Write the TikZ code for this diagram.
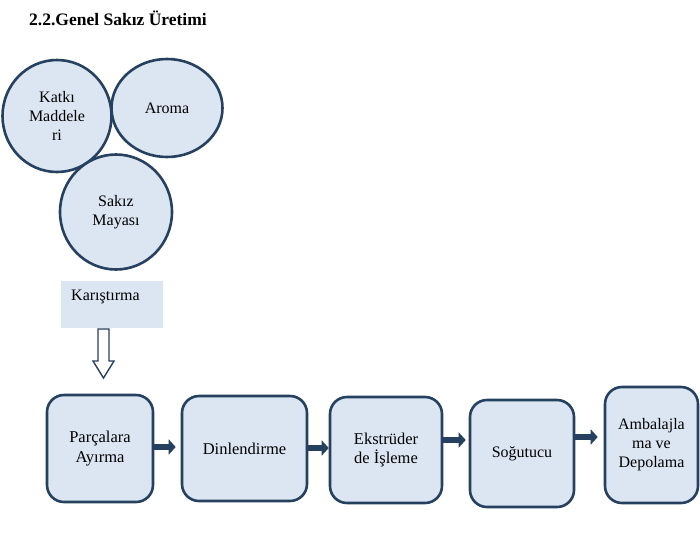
\documentclass[tikz,border=0pt]{standalone}
\usepackage{fontspec}
\setmainfont{Liberation Serif}
\usetikzlibrary{shapes.geometric,arrows.meta,calc}
\definecolor{navy}{RGB}{38,64,96}
\definecolor{paleblue}{RGB}{220,230,242}
\tikzset{
  blob/.style={ellipse, draw=navy, line width=2.6pt, fill=paleblue, inner sep=0pt, align=center, font=\fontsize{16}{19}\selectfont},
  stepbox/.style={rectangle, rounded corners=17pt, draw=navy, line width=2.6pt, fill=paleblue, inner sep=2pt, align=center, font=\fontsize{16.5}{19.5}\selectfont},
  flow/.style={navy, line width=6pt, -{Triangle[length=7pt,width=15pt]}},
}
\begin{document}
\begin{tikzpicture}[x=1pt,y=-1pt]
\useasboundingbox (0,0) rectangle (700,549);
% title
\node[anchor=west, inner sep=0pt, font=\fontsize{17.5}{20}\selectfont\bfseries] (title) at (29,18) {2.2.Genel Sakız Üretimi};
% circles
\node[blob, minimum width=109pt, minimum height=112pt] (c1) at (57,116) {Katkı\\Maddele\\ri};
\node[blob, minimum width=111pt, minimum height=98pt] (c2) at (167,108) {Aroma};
\node[blob, minimum width=112pt, minimum height=115pt] (c3) at (116,212) {Sakız\\Mayası};
% mixing box
\node[fill=paleblue, minimum width=102pt, minimum height=47pt, inner sep=0pt] (mix) at (112,304.5) {};
\node[anchor=west, inner sep=0pt, font=\fontsize{16}{19}\selectfont] (mixt) at (71,297) {Karıştırma};
% hollow arrow
\draw[navy, line width=1.4pt, fill=white, line join=miter]
  (98,329) -- (109,329) -- (109,361) -- (114,361) -- (103.5,378) -- (93,361) -- (98,361) -- cycle;
% process boxes
\node[stepbox, minimum width=106pt, minimum height=107pt] (p1) at (100,448.5) {Parçalara\\Ayırma};
\node[stepbox, minimum width=125pt, minimum height=105pt] (p2) at (244.5,448.5) {Dinlendirme};
\node[stepbox, minimum width=112pt, minimum height=106pt] (p3) at (386,450) {Ekstrüder\\de İşleme};
\node[stepbox, minimum width=104pt, minimum height=107pt, font=\fontsize{16}{19}\selectfont] (p4) at (522,453.5) {Soğutucu};
\node[stepbox, minimum width=93pt, minimum height=116pt, font=\fontsize{16}{19}\selectfont] (p5) at (651.5,445) {Ambalajla\\ma ve\\Depolama};
% connectors
\draw[flow, shorten >=5pt] (p1.east |- 0,447) -- (p2.west |- 0,447);
\draw[flow] (p2.east |- 0,448) -- (p3.west |- 0,448);
\draw[flow, shorten >=3pt] (p3.east |- 0,440) -- (p4.west |- 0,440);
\draw[flow, shorten >=6pt] (p4.east |- 0,437) -- (p5.west |- 0,437);
\end{tikzpicture}
\end{document}
